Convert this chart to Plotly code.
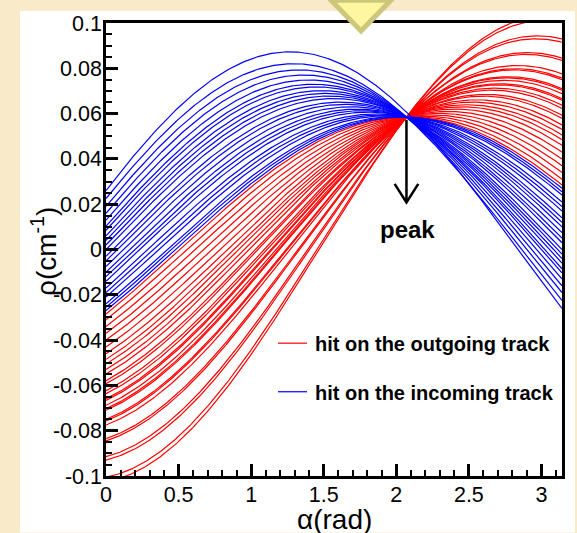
import numpy as np
import plotly.graph_objects as go

# ---- data ----
# Each Hough curve is described by its value at alpha = 0 and at alpha = pi/2
blue_rho_at_0 = [0.026, 0.0225, 0.019, 0.016, 0.013, 0.0103, 0.0085, 0.006, 0.004, 0.002,
                 0.0, -0.003, -0.005, -0.0075, -0.01, -0.012, -0.014, -0.017, -0.019,
                 -0.021, -0.024, -0.0255, -0.027]
blue_rho_at_half_pi = [0.0833, 0.0789, 0.07699, 0.07535, 0.07372, 0.07225, 0.07126, 0.0699,
                       0.06881, 0.06772, 0.06663, 0.06499, 0.0639, 0.06254, 0.06118, 0.06009,
                       0.059, 0.05736, 0.05627, 0.05518, 0.05355, 0.05273, 0.05191]
red_rho_at_0 = [-0.1025, -0.1005, -0.093, -0.0915, -0.0845, -0.0835, -0.0775, -0.0757, -0.075,
                -0.071, -0.0703, -0.0688, -0.0666, -0.0659, -0.0637, -0.0623, -0.0593, -0.0579,
                -0.055, -0.053, -0.0506, -0.0485, -0.046, -0.043, -0.04, -0.037, -0.034,
                -0.031, -0.0285]
red_rho_at_half_pi = [0.01075, 0.01184, 0.01593, 0.01674, 0.02056, 0.02111, 0.02438, 0.02536,
                      0.02574, 0.02792, 0.0283, 0.02912, 0.03032, 0.0307, 0.0319, 0.03266,
                      0.0343, 0.03506, 0.03664, 0.03773, 0.03904, 0.04019, 0.04155, 0.04319,
                      0.04482, 0.04646, 0.04809, 0.04973, 0.05109]

x_tick_vals = [0, 0.5, 1, 1.5, 2, 2.5, 3]
x_tick_text = ["0", "0.5", "1", "1.5", "2", "2.5", "3"]
y_tick_vals = [-0.1, -0.08, -0.06, -0.04, -0.02, 0, 0.02, 0.04, 0.06, 0.08, 0.1]
y_tick_text = ["-0.1", "-0.08", "-0.06", "-0.04", "-0.02", "0", "0.02", "0.04", "0.06", "0.08", "0.1"]

legend_labels = ["hit on the outgoing track", "hit on the incoming track"]
peak_label = "peak"
peak_alpha = 2.07
peak_rho_top = 0.0573
peak_rho_tip = 0.0208

alpha = np.linspace(0, np.pi, 400)

FONT = "Liberation Sans, Arial, Helvetica, sans-serif"
RED = "#ff0000"
BLUE = "#0000ff"
BEIGE = "#f9ebc9"

fig = go.Figure()
for r0, r90 in zip(red_rho_at_0, red_rho_at_half_pi):
    fig.add_trace(go.Scatter(x=alpha, y=r0 * np.cos(alpha) + r90 * np.sin(alpha), mode="lines",
                             line=dict(color=RED, width=1.2), showlegend=False, hoverinfo="skip"))
for r0, r90 in zip(blue_rho_at_0, blue_rho_at_half_pi):
    fig.add_trace(go.Scatter(x=alpha, y=r0 * np.cos(alpha) + r90 * np.sin(alpha), mode="lines",
                             line=dict(color=BLUE, width=1.2), showlegend=False, hoverinfo="skip"))

W, H = 577, 533
L, R, T, B = 106, 15, 19, 57
pw, ph = W - L - R, H - T - B


def px(x):
    return (x - L) / pw


def py(y):
    return (H - B - y) / ph


shapes = [
    # white panel
    dict(type="rect", xref="paper", yref="paper", x0=px(20), x1=px(575), y0=py(533), y1=py(7),
         fillcolor="white", line=dict(width=0), layer="below"),
    # arrow
    dict(type="line", xref="x", yref="y", x0=peak_alpha, x1=peak_alpha, y0=peak_rho_top,
         y1=peak_rho_tip, line=dict(color="black", width=2.5)),
    dict(type="path", xref="x", yref="y",
         path=f"M{peak_alpha - 0.0815},{peak_rho_tip + 0.0082} L{peak_alpha},{peak_rho_tip} "
              f"L{peak_alpha + 0.0815},{peak_rho_tip + 0.0082}",
         line=dict(color="black", width=2.5)),
    # legend samples
    dict(type="line", xref="paper", yref="paper", x0=px(278), x1=px(307), y0=py(342), y1=py(342),
         line=dict(color=RED, width=1.2)),
    dict(type="line", xref="paper", yref="paper", x0=px(278), x1=px(307), y0=py(391), y1=py(391),
         line=dict(color=BLUE, width=1.2)),
    # decorative slide triangle
    dict(type="path", xref="paper", yref="paper",
         path=f"M{px(331)},{py(-4)} L{px(391)},{py(-4)} L{px(361)},{py(27)} Z",
         fillcolor="#fff7a0", line=dict(color="#cdc77c", width=5), layer="above"),
]

annotations = [
    dict(text="α(rad)", xref="paper", yref="paper", x=0.5, y=py(520), xanchor="center",
         yanchor="middle", showarrow=False, font=dict(family=FONT, size=28, color="black")),
    dict(text="ρ(cm<sup>-1</sup>)", xref="paper", yref="paper", x=px(44), y=py(250),
         xanchor="center", yanchor="middle", textangle=-90, showarrow=False,
         font=dict(family=FONT, size=28, color="black")),
    dict(text=f"<b>{peak_label}</b>", xref="x", yref="y", x=2.077, y=0.0087, xanchor="center",
         yanchor="middle", showarrow=False, font=dict(family=FONT, size=24, color="black")),
    dict(text=f"<b>{legend_labels[0]}</b>", xref="paper", yref="paper", x=px(313), y=py(343),
         xanchor="left", yanchor="middle", showarrow=False,
         font=dict(family=FONT, size=20, color="black")),
    dict(text=f"<b>{legend_labels[1]}</b>", xref="paper", yref="paper", x=px(313), y=py(392),
         xanchor="left", yanchor="middle", showarrow=False,
         font=dict(family=FONT, size=20, color="black")),
]

fig.update_layout(
    width=W, height=H, autosize=False,
    margin=dict(l=L, r=R, t=T, b=B, pad=0),
    paper_bgcolor=BEIGE, plot_bgcolor="white",
    shapes=shapes, annotations=annotations, showlegend=False,
    font=dict(family=FONT, size=21.5, color="black"),
)
fig.update_xaxes(
    range=[0, np.pi], showgrid=False, zeroline=False,
    showline=True, mirror=True, linecolor="black", linewidth=2.5,
    ticks="inside", ticklen=12, tickwidth=2.5, tickcolor="black",
    tickmode="array", tickvals=x_tick_vals, ticktext=x_tick_text,
    tickfont=dict(family=FONT, size=21.5, color="black"),
    ticklabelstandoff=-3,
    minor=dict(ticks="inside", ticklen=6, tickwidth=2, tickcolor="black", dtick=0.1, tick0=0,
               showgrid=False),
)
fig.update_yaxes(
    range=[-0.1, 0.1], showgrid=False, zeroline=False,
    showline=True, mirror=True, linecolor="black", linewidth=2.5,
    ticks="inside", ticklen=12, tickwidth=2.5, tickcolor="black",
    tickmode="array", tickvals=y_tick_vals, ticktext=y_tick_text,
    tickfont=dict(family=FONT, size=21.5, color="black"),
    ticklabelstandoff=-3,
    minor=dict(ticks="inside", ticklen=6, tickwidth=2, tickcolor="black", dtick=0.005, tick0=0,
               showgrid=False),
)

fig.write_html(
    "out.html",
    config={"displayModeBar": False},
    post_script=("document.body.style.margin='0';document.body.style.padding='0';"
                 "document.body.style.overflow='hidden';"
                 f"document.body.style.background='{BEIGE}';"),
)
